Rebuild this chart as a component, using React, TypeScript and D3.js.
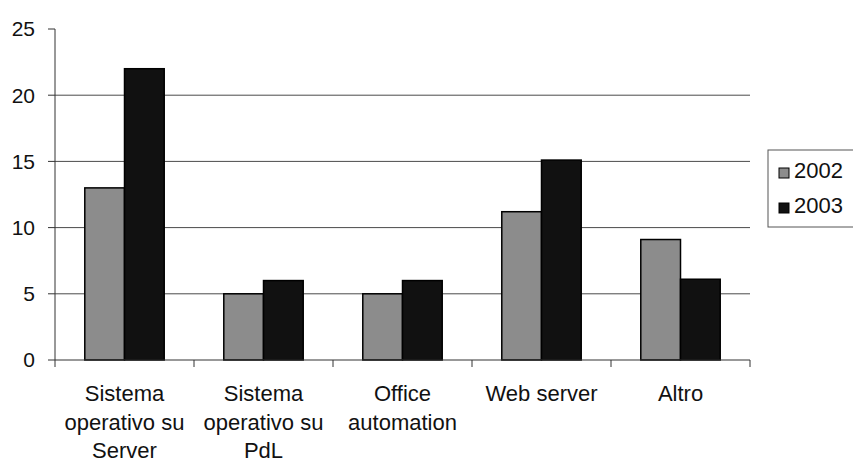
import * as d3 from "d3";
import { useEffect, useRef } from "react";

const categories = [
  ["Sistema", "operativo su", "Server"],
  ["Sistema", "operativo su", "PdL"],
  ["Office", "automation"],
  ["Web server"],
  ["Altro"],
];
const seriesNames = ["2002", "2003"];
const values2002 = [13, 5, 5, 11.2, 9.1];
const values2003 = [22, 6, 6, 15.1, 6.1];
const yTicks = [0, 5, 10, 15, 20, 25];

const colors = ["#8c8c8c", "#111111"];

export default function App() {
  const ref = useRef<SVGSVGElement>(null);

  useEffect(() => {
    const width = 853;
    const height = 463;
    const svg = d3.select(ref.current);
    svg.selectAll("*").remove();
    svg.attr("width", width).attr("height", height);

    const left = 55, right = 750, top = 29, bottom = 360;
    const font = "'Liberation Sans', Arial, sans-serif";

    const keys = categories.map((_, i) => String(i));
    const x = d3.scaleBand().domain(keys).range([left, right]);
    const y = d3.scaleLinear().domain([0, 25]).range([bottom, top]);

    const bw = x.bandwidth() / 3.5;
    const x1 = d3.scaleBand().domain(seriesNames).range([0, bw * 2]);

    // gridlines
    svg.append("g")
      .selectAll("line")
      .data(yTicks.filter(t => t > 0 && t < 25))
      .enter()
      .append("line")
      .attr("x1", left)
      .attr("x2", right)
      .attr("y1", d => y(d))
      .attr("y2", d => y(d))
      .attr("stroke", "#4a4a4a")
      .attr("stroke-width", 1);

    // bars
    const rows = keys.map((k, i) => ({ k, vals: [values2002[i], values2003[i]] }));
    const group = svg.append("g")
      .selectAll("g")
      .data(rows)
      .enter()
      .append("g")
      .attr("transform", d => `translate(${x(d.k)! + x.bandwidth() / 2 - bw},0)`);

    group.selectAll("rect")
      .data(d => d.vals.map((v, j) => ({ v, s: seriesNames[j], j })))
      .enter()
      .append("rect")
      .attr("x", d => x1(d.s)!)
      .attr("y", d => y(d.v))
      .attr("width", x1.bandwidth())
      .attr("height", d => y(0) - y(d.v))
      .attr("fill", d => colors[d.j])
      .attr("stroke", "#000")
      .attr("stroke-width", 1.5);

    // y axis
    const yAxis = svg.append("g");
    yAxis.append("line")
      .attr("x1", left).attr("x2", left)
      .attr("y1", top).attr("y2", bottom + 7)
      .attr("stroke", "#333");
    yAxis.selectAll("line.tick")
      .data(yTicks)
      .enter()
      .append("line")
      .attr("class", "tick")
      .attr("x1", left - 7).attr("x2", left)
      .attr("y1", d => y(d)).attr("y2", d => y(d))
      .attr("stroke", "#333");
    yAxis.selectAll("text")
      .data(yTicks)
      .enter()
      .append("text")
      .attr("x", 35)
      .attr("y", d => y(d))
      .attr("dy", "0.35em")
      .attr("text-anchor", "end")
      .attr("font-family", font)
      .attr("font-size", 21)
      .attr("fill", "#111")
      .text(d => d);

    // x axis
    const xAxis = svg.append("g");
    xAxis.append("line")
      .attr("x1", left).attr("x2", right)
      .attr("y1", bottom).attr("y2", bottom)
      .attr("stroke", "#333");
    xAxis.selectAll("line.tick")
      .data(keys.slice(1).map(k => x(k)!).concat([right]))
      .enter()
      .append("line")
      .attr("class", "tick")
      .attr("x1", d => d).attr("x2", d => d)
      .attr("y1", bottom).attr("y2", bottom + 7)
      .attr("stroke", "#333");

    const labels = xAxis.selectAll("text")
      .data(rows)
      .enter()
      .append("text")
      .attr("text-anchor", "middle")
      .attr("font-family", font)
      .attr("font-size", 22)
      .attr("fill", "#111");
    labels.each(function (d, i) {
      const t = d3.select(this);
      categories[i].forEach((line, j) => {
        t.append("tspan")
          .attr("x", x(d.k)! + x.bandwidth() / 2)
          .attr("y", 401 + j * 28.5)
          .text(line);
      });
    });

    // legend
    const legend = svg.append("g");
    legend.append("rect")
      .attr("x", 768).attr("y", 150)
      .attr("width", 100).attr("height", 77)
      .attr("fill", "none")
      .attr("stroke", "#555");
    seriesNames.forEach((name, i) => {
      legend.append("rect")
        .attr("x", 779).attr("y", 168 + i * 35)
        .attr("width", 10).attr("height", 10)
        .attr("fill", colors[i])
        .attr("stroke", "#000");
      legend.append("text")
        .attr("x", 794).attr("y", 178 + i * 35)
        .attr("font-family", font)
        .attr("font-size", 22)
        .attr("fill", "#111")
        .text(name);
    });
  }, []);

  return (
    <svg ref={ref} style={{ position: "absolute", left: 0, top: 0, background: "#fff" }}></svg>
  );
}
